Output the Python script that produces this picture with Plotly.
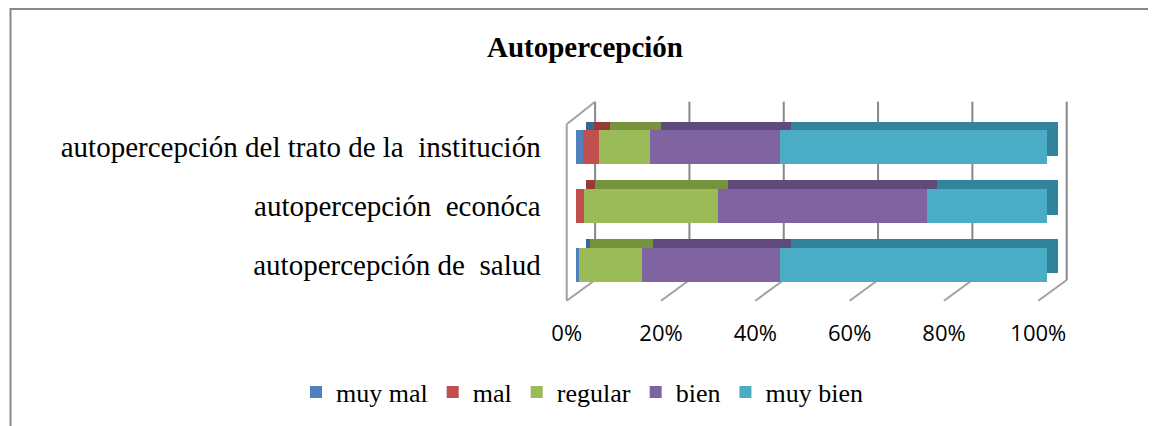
import plotly.graph_objects as go

# ---------------- data ----------------
categories = [
    "autopercepción de\u00a0 salud",
    "autopercepción\u00a0 econóca",
    "autopercepción del trato de la\u00a0 institución",
]
series_names = ["muy mal", "mal", "regular", "bien", "muy bien"]
muy_mal = [0.8, 0.0, 1.6]
mal = [0.0, 1.8, 3.4]
regular = [13.3, 28.3, 10.8]
bien = [29.3, 44.3, 27.5]
muy_bien = [56.6, 25.6, 56.7]
tick_vals = [0, 20, 40, 60, 80, 100]
tick_text = ["0%", "20%", "40%", "60%", "80%", "100%"]
title_text = "Autopercepción"

series_values = [muy_mal, mal, regular, bien, muy_bien]
front_colors = ["#4F81BD", "#C0504D", "#9BBB59", "#8064A2", "#4BACC6"]
top_colors = ["#3A6397", "#953A38", "#76923C", "#604A7B", "#31849B"]

W, H = 1156, 426
OFF = 8  # page body margin: figure is drawn 8px right / 8px down in the window

def fx(p):   # window x pixel -> paper fraction
    return (p - OFF) / W

def fy(p):   # window y pixel -> paper fraction
    return 1 - (p - OFF) / H

def px_x(a, b):
    return [fx(a), fx(b)]

def px_y(top, bottom):
    return [fy(bottom), fy(top)]

# front plane geometry (window pixels)
FX0, FX1 = 575.7, 1047.3
FY_TOP, FY_BOT = 117.6, 294.1
DX, DY = 10.7, 8.3
XS = (FX1 - FX0) / 100.0          # px per percent
YS = (FY_BOT - FY_TOP) / 3.0      # px per category

# depth subplot (top faces + walls): same scale, shifted back, enlarged area
DX0, DX1 = FX0 + DX, FX1 + DX          # where 0 and 100 fall
DYT, DYB = FY_TOP - DY, FY_BOT - DY    # where 2.5 and -0.5 fall
D_LEFT, D_RIGHT, D_TOP, D_BOT = 540, 1100, 90, 315
d_xrange = [(D_LEFT - DX0) / XS, 100 + (D_RIGHT - DX1) / XS]
d_yrange = [-0.5 - (D_BOT - DYB) / YS, 2.5 + (DYT - D_TOP) / YS]

fig = go.Figure()

# depth (top faces) on xy, drawn first
for name, vals, col in zip(series_names, series_values, top_colors):
    fig.add_trace(go.Bar(
        y=categories, x=vals, orientation="h", name=name,
        marker=dict(color=col, line=dict(width=0)),
        xaxis="x", yaxis="y", showlegend=False, hoverinfo="skip",
    ))

# front faces on x2y2
for name, vals, col in zip(series_names, series_values, front_colors):
    fig.add_trace(go.Bar(
        y=categories, x=vals, orientation="h", name=name,
        marker=dict(color=col, line=dict(width=0)),
        xaxis="x2", yaxis="y2",
    ))

# walls / gridlines / floor lines, relative to depth axes
grid_col = "#878787"
wall_col = "#A0A0A0"
shapes = []
for v in tick_vals:
    shapes.append(dict(type="line", xref="x", yref="y", layer="below",
                       xsizemode="pixel", xanchor=v, x0=8.7, x1=8.7,
                       ysizemode="pixel", yanchor=-0.5, y0=5.8, y1=184.1,
                       line=dict(color=grid_col, width=2)))
    shapes.append(dict(type="line", xref="x", yref="y", layer="below",
                       xsizemode="pixel", xanchor=v, x0=8.7, x1=-19.7,
                       ysizemode="pixel", yanchor=-0.5, y0=5.8, y1=-14.9,
                       line=dict(color=wall_col, width=2)))
shapes.append(dict(type="line", xref="x", yref="y", layer="below",
                   xsizemode="pixel", xanchor=tick_vals[0], x0=-19.7, x1=-19.7,
                   ysizemode="pixel", yanchor=-0.5, y0=-14.9, y1=161.5,
                   line=dict(color=wall_col, width=2)))
shapes.append(dict(type="line", xref="x", yref="y", layer="below",
                   xsizemode="pixel", xanchor=tick_vals[0], x0=-19.7, x1=8.7,
                   ysizemode="pixel", yanchor=-0.5, y0=161.5, y1=184.1,
                   line=dict(color=wall_col, width=2)))
# outer chart frame
shapes.append(dict(type="rect", xref="paper", yref="paper",
                   x0=fx(10.5), x1=1.2, y0=-0.2, y1=fy(9),
                   line=dict(color="#888888", width=2), layer="below"))

fig.update_layout(
    width=W, height=H,
    margin=dict(l=0, r=0, t=0, b=0, pad=0, autoexpand=False),
    paper_bgcolor="white", plot_bgcolor="rgba(0,0,0,0)",
    barmode="stack", bargap=0.42,
    showlegend=True,
    title=dict(text="<b>" + title_text + "</b>", x=fx(585), xanchor="center",
               y=fy(47), yanchor="middle",
               font=dict(family="Liberation Serif", size=29, color="black")),
    legend=dict(orientation="h", x=fx(582), xanchor="center",
                y=fy(392), yanchor="middle",
                font=dict(family="Liberation Serif", size=26, color="black"),
                traceorder="normal", bgcolor="rgba(0,0,0,0)"),
    xaxis=dict(domain=px_x(D_LEFT, D_RIGHT), range=d_xrange, visible=False,
               anchor="y", fixedrange=True),
    yaxis=dict(domain=px_y(D_TOP, D_BOT), range=d_yrange,
               type="category", categoryorder="array", categoryarray=categories,
               visible=False, anchor="x", fixedrange=True),
    xaxis2=dict(domain=px_x(FX0, FX1), range=[0, 100], anchor="y2",
                showgrid=False, zeroline=False, showline=False, ticks="",
                tickmode="array", tickvals=tick_vals, ticktext=tick_text,
                ticklabelshift=-9, ticklabelstandoff=24,
                tickfont=dict(family="Open Sans", size=22, color="black"),
                fixedrange=True),
    yaxis2=dict(domain=px_y(FY_TOP, FY_BOT), range=[-0.5, 2.5], anchor="x2",
                type="category", categoryorder="array", categoryarray=categories,
                showgrid=False, zeroline=False, showline=False, ticks="",
                ticklabelstandoff=34,
                tickfont=dict(family="Liberation Serif", size=29, color="black"),
                fixedrange=True),
    shapes=shapes,
)

fig.write_html("out.html")
